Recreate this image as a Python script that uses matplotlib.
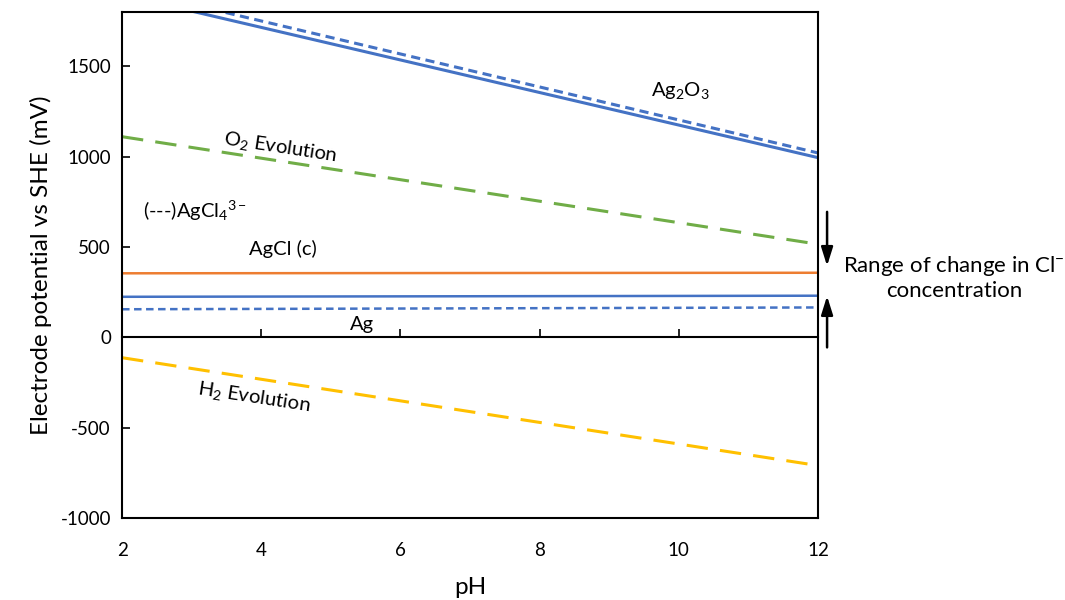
import matplotlib
matplotlib.use('Agg')
import matplotlib.pyplot as plt

# pH range of every line (end points)
ph = [2, 12]

ag2o3 = [1895, 994]          # solid blue
ag2o3_dash = [1933, 1020]    # dashed blue
o2_evo = [1110, 515]         # green dashed
agcl = [354, 357]            # orange
ag = [224, 230]              # solid blue
ag_dash = [155, 165]         # dashed blue
h2_evo = [-113, -710]        # yellow dashed

yticks = [-1000, -500, 0, 500, 1000, 1500]
xticks = [2, 4, 6, 8, 10, 12]

plt.rcParams['font.family'] = ['Lato', 'DejaVu Sans']
plt.rcParams['mathtext.fontset'] = 'custom'
plt.rcParams['mathtext.rm'] = 'Lato'
plt.rcParams['mathtext.it'] = 'Lato'
plt.rcParams['mathtext.default'] = 'rm'
plt.rcParams['axes.unicode_minus'] = False

blue = '#4472C4'
fig = plt.figure(figsize=(10.65, 6), dpi=100)
ax = fig.add_axes([0.1146, 0.1367, 0.6535, 0.8433])

ax.plot(ph, ag2o3, color=blue, lw=2.2)
ax.plot(ph, ag2o3_dash, color=blue, lw=2.2, dashes=(3, 1.8))
ax.plot(ph, o2_evo, color='#70AD47', lw=2.2, dashes=(7, 4))
ax.plot(ph, agcl, color='#ED7D31', lw=1.8)
ax.plot(ph, ag, color=blue, lw=1.8)
ax.plot(ph, ag_dash, color=blue, lw=1.8, dashes=(3, 1.8))
ax.plot(ph, h2_evo, color='#FFC000', lw=2.2, dashes=(7, 4))

ax.set_xlim(2, 12)
ax.set_ylim(-1000, 1800)
ax.set_yticks(yticks)
ax.set_xticks(xticks)
ax.tick_params(axis='y', direction='in', length=6, width=1.2, labelsize=13.5, pad=8)
ax.tick_params(axis='x', length=0, labelsize=13.5, pad=17)
for s in ax.spines.values():
    s.set_linewidth(1.5)

# horizontal axis line at 0 with its ticks (Excel style)
zero = (0 - ax.get_ylim()[0]) / (ax.get_ylim()[1] - ax.get_ylim()[0])
sec = ax.secondary_xaxis(zero)
sec.set_xticks(xticks[1:-1])
sec.tick_params(direction='in', length=6, width=1.2, labelbottom=False)
sec.spines['bottom'].set_linewidth(1.5)

ax.set_ylabel('Electrode potential vs SHE (mV)', fontsize=17.5, labelpad=6)
ax.set_xlabel('pH', fontsize=17.5, labelpad=13)

lbl = 14.5
ax.text(10.02, 1367, r'Ag$_2$O$_3$', fontsize=lbl, ha='center', va='center')
ax.text(4.28, 1050, r'O$_2$ Evolution', fontsize=lbl, ha='center', va='center', rotation=-8.7)
ax.text(3.05, 700, r'(---)AgCl$_4$$^{3-}$', fontsize=lbl, ha='center', va='center')
ax.text(4.31, 489, 'AgCl (c)', fontsize=lbl, ha='center', va='center')
ax.text(5.45, 72, 'Ag', fontsize=lbl, ha='center', va='center')
ax.text(3.9, -333, r'H$_2$ Evolution', fontsize=lbl, ha='center', va='center', rotation=-8.7)

# arrows for Cl- range
arrow = dict(arrowstyle='-|>,head_length=0.7,head_width=0.22', color='black',
             lw=1.8, mutation_scale=16, shrinkA=0, shrinkB=0)
ax.annotate('', xy=(1.013, 395), xytext=(1.013, 694), xycoords=('axes fraction', 'data'),
            arrowprops=arrow, annotation_clip=False)
ax.annotate('', xy=(1.013, 228), xytext=(1.013, -56), xycoords=('axes fraction', 'data'),
            arrowprops=arrow, annotation_clip=False)
fig.text(0.896, 0.538, 'Range of change in Cl$^{-}$\nconcentration', fontsize=16,
         ha='center', va='center', linespacing=1.2)

fig.savefig('out.png', dpi=100)
